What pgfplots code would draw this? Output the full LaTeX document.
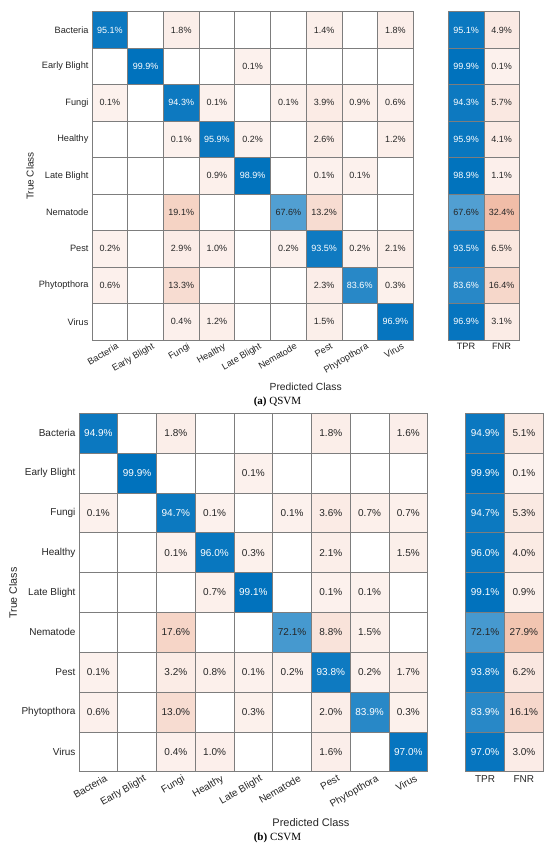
\documentclass[border=0pt]{standalone}
\usepackage{pgfplots}
\pgfplotsset{compat=1.18}
\usepackage{pgfplotstable}
\usepackage{fontspec}
\setmainfont{Liberation Sans}
\newfontfamily\capfont{Liberation Serif}

\definecolor{txt}{RGB}{38,38,38}
\definecolor{gridc}{RGB}{125,125,125}

% empty mark: the cell is drawn in the pre marker code
\pgfdeclareplotmark{cellmark}{}

\pgfplotsset{
  colormap={cmorange}{rgb255=(252,241,237) rgb255=(217,83,25)},
  colormap={cmblue}{rgb255=(255,255,255) rgb255=(0,114,189)},
  cmatrix/.style={
    scale only axis, y dir=reverse,
    point meta min=0, point meta max=100,
    axis on top, grid=minor,
    minor grid style={gridc, line width=0.6pt},
    axis line style={gridc, line width=0.6pt},
    major tick length=0pt, minor tick length=0pt,
    ymin=-0.5, ymax=8.5,
    ytick={0,...,8},
    minor ytick={-0.5,0.5,...,8.5},
    tick label style={text=txt},
  },
  cellfill/.style={
    scatter, only marks, mark=cellmark, point meta=explicit,
    scatter/@pre marker code/.append code={%
      \filldraw[fill=mapped color, draw=gridc, line width=0.6pt]
        (axis direction cs:-0.5,-0.5) rectangle (axis direction cs:0.5,0.5);},
  },
  cellnum/.style={
    only marks, mark=none, point meta=explicit,
    nodes near coords={\pgfmathprintnumber[fixed,fixed zerofill,precision=1,assume math mode=true]{\pgfplotspointmeta}\%},
    every node near coord/.append style={anchor=center, text=#1},
  },
}

% QSVM: off-diagonal and diagonal cells (x = predicted, y = true)
\pgfplotstableread{
x y v
2 0 1.8
6 0 1.4
8 0 1.8
4 1 0.1
0 2 0.1
3 2 0.1
5 2 0.1
6 2 3.9
7 2 0.9
8 2 0.6
2 3 0.1
4 3 0.2
6 3 2.6
8 3 1.2
3 4 0.9
6 4 0.1
7 4 0.1
2 5 19.1
6 5 13.2
0 6 0.2
2 6 2.9
3 6 1.0
5 6 0.2
7 6 0.2
8 6 2.1
0 7 0.6
2 7 13.3
6 7 2.3
8 7 0.3
2 8 0.4
3 8 1.2
6 8 1.5
}\qoff
\pgfplotstableread{
x y v
0 0 95.1
1 1 99.9
2 2 94.3
3 3 95.9
4 4 98.9
5 5 67.6
6 6 93.5
7 7 83.6
8 8 96.9
}\qdiag
\pgfplotstableread{
y tpr fnr
0 95.1 4.9
1 99.9 0.1
2 94.3 5.7
3 95.9 4.1
4 98.9 1.1
5 67.6 32.4
6 93.5 6.5
7 83.6 16.4
8 96.9 3.1
}\qrate

% CSVM
\pgfplotstableread{
x y v
2 0 1.8
6 0 1.8
8 0 1.6
4 1 0.1
0 2 0.1
3 2 0.1
5 2 0.1
6 2 3.6
7 2 0.7
8 2 0.7
2 3 0.1
4 3 0.3
6 3 2.1
8 3 1.5
3 4 0.7
6 4 0.1
7 4 0.1
2 5 17.6
6 5 8.8
7 5 1.5
0 6 0.1
2 6 3.2
3 6 0.8
4 6 0.1
5 6 0.2
7 6 0.2
8 6 1.7
0 7 0.6
2 7 13.0
4 7 0.3
6 7 2.0
8 7 0.3
2 8 0.4
3 8 1.0
6 8 1.6
}\coff
\pgfplotstableread{
x y v
0 0 94.9
1 1 99.9
2 2 94.7
3 3 96.0
4 4 99.1
5 5 72.1
6 6 93.8
7 7 83.9
8 8 97.0
}\cdiag
\pgfplotstableread{
y tpr fnr
0 94.9 5.1
1 99.9 0.1
2 94.7 5.3
3 96.0 4.0
4 99.1 0.9
5 72.1 27.9
6 93.8 6.2
7 83.9 16.1
8 97.0 3.0
}\crate

\begin{document}
\begin{tikzpicture}
\path[use as bounding box, fill=white] (0pt,0pt) rectangle (550pt,-849pt);

% ---------- (a) QSVM ----------
\begin{axis}[cmatrix, at={(92pt,-11.7pt)}, anchor=north west,
  width=321.3pt, height=328.3pt,
  xmin=-0.5, xmax=8.5, xtick={0,...,8},
  minor xtick={-0.5,0.5,...,8.5},
  xticklabels={Bacteria,Early Blight,Fungi,Healthy,Late Blight,Nematode,Pest,Phytopthora,Virus},
  yticklabels={Bacteria,Early Blight,Fungi,Healthy,Late Blight,Nematode,Pest,Phytopthora,Virus},
  xticklabel style={rotate=30, anchor=north east, inner sep=1pt, xshift=5pt, yshift=-4pt},
  tick label style={font=\fontsize{9.2}{11}\selectfont},
  every node near coord/.append style={font=\fontsize{9}{10}\selectfont},
]
\addplot[cellfill, colormap name=cmorange] table[x=x, y=y, meta=v] {\qoff};
\addplot[cellfill, colormap name=cmblue] table[x=x, y=y, meta=v] {\qdiag};
\addplot[cellnum=txt] table[x=x, y=y, meta=v] {\qoff};
\addplot[cellnum=white, restrict expr to domain={\thisrow{v}}{75:100}] table[x=x, y=y, meta=v] {\qdiag};
\addplot[cellnum=txt, restrict expr to domain={\thisrow{v}}{0:75}] table[x=x, y=y, meta=v] {\qdiag};
\end{axis}

\begin{axis}[cmatrix, at={(448.3pt,-11.7pt)}, anchor=north west,
  width=71pt, height=328.3pt,
  xmin=-0.5, xmax=1.5, xtick={0,1}, minor xtick={-0.5,0.5,1.5},
  xticklabels={TPR,FNR}, yticklabels={},
  tick label style={font=\fontsize{9.2}{11}\selectfont},
  every node near coord/.append style={font=\fontsize{9}{10}\selectfont},
]
\addplot[cellfill, colormap name=cmblue] table[x expr=0, y=y, meta=tpr] {\qrate};
\addplot[cellfill, colormap name=cmorange] table[x expr=1, y=y, meta=fnr] {\qrate};
\addplot[cellnum=white, restrict expr to domain={\thisrow{tpr}}{75:100}] table[x expr=0, y=y, meta=tpr] {\qrate};
\addplot[cellnum=txt, restrict expr to domain={\thisrow{tpr}}{0:75}] table[x expr=0, y=y, meta=tpr] {\qrate};
\addplot[cellnum=txt] table[x expr=1, y=y, meta=fnr] {\qrate};
\end{axis}

\node[rotate=90, text=txt, font=\fontsize{10}{12}\selectfont] at (30pt,-176pt) {True Class};
\node[text=txt, font=\fontsize{10.3}{12}\selectfont] at (305.7pt,-387pt) {Predicted Class};
\node[font=\capfont\fontsize{11}{13}\selectfont] at (277.5pt,-401.7pt) {\textbf{(a)} QSVM};

% ---------- (b) CSVM ----------
\begin{axis}[cmatrix, at={(79pt,-413.3pt)}, anchor=north west,
  width=348.7pt, height=358.4pt,
  xmin=-0.5, xmax=8.5, xtick={0,...,8},
  minor xtick={-0.5,0.5,...,8.5},
  xticklabels={Bacteria,Early Blight,Fungi,Healthy,Late Blight,Nematode,Pest,Phytopthora,Virus},
  yticklabels={Bacteria,Early Blight,Fungi,Healthy,Late Blight,Nematode,Pest,Phytopthora,Virus},
  xticklabel style={rotate=30, anchor=north east, inner sep=1pt, xshift=5pt, yshift=-4pt},
  tick label style={font=\fontsize{10}{12}\selectfont},
  every node near coord/.append style={font=\fontsize{10}{11}\selectfont},
]
\addplot[cellfill, colormap name=cmorange] table[x=x, y=y, meta=v] {\coff};
\addplot[cellfill, colormap name=cmblue] table[x=x, y=y, meta=v] {\cdiag};
\addplot[cellnum=txt] table[x=x, y=y, meta=v] {\coff};
\addplot[cellnum=white, restrict expr to domain={\thisrow{v}}{75:100}] table[x=x, y=y, meta=v] {\cdiag};
\addplot[cellnum=txt, restrict expr to domain={\thisrow{v}}{0:75}] table[x=x, y=y, meta=v] {\cdiag};
\end{axis}

\begin{axis}[cmatrix, at={(465.7pt,-413.3pt)}, anchor=north west,
  width=77.6pt, height=358.4pt,
  xmin=-0.5, xmax=1.5, xtick={0,1}, minor xtick={-0.5,0.5,1.5},
  xticklabels={TPR,FNR}, yticklabels={},
  tick label style={font=\fontsize{10}{12}\selectfont},
  every node near coord/.append style={font=\fontsize{10}{11}\selectfont},
]
\addplot[cellfill, colormap name=cmblue] table[x expr=0, y=y, meta=tpr] {\crate};
\addplot[cellfill, colormap name=cmorange] table[x expr=1, y=y, meta=fnr] {\crate};
\addplot[cellnum=white, restrict expr to domain={\thisrow{tpr}}{75:100}] table[x expr=0, y=y, meta=tpr] {\crate};
\addplot[cellnum=txt, restrict expr to domain={\thisrow{tpr}}{0:75}] table[x expr=0, y=y, meta=tpr] {\crate};
\addplot[cellnum=txt] table[x expr=1, y=y, meta=fnr] {\crate};
\end{axis}

\node[rotate=90, text=txt, font=\fontsize{10.7}{12}\selectfont] at (13pt,-593pt) {True Class};
\node[text=txt, font=\fontsize{11}{13}\selectfont] at (311pt,-823pt) {Predicted Class};
\node[font=\capfont\fontsize{11}{13}\selectfont] at (277.5pt,-838.3pt) {\textbf{(b)} CSVM};
\end{tikzpicture}
\end{document}
